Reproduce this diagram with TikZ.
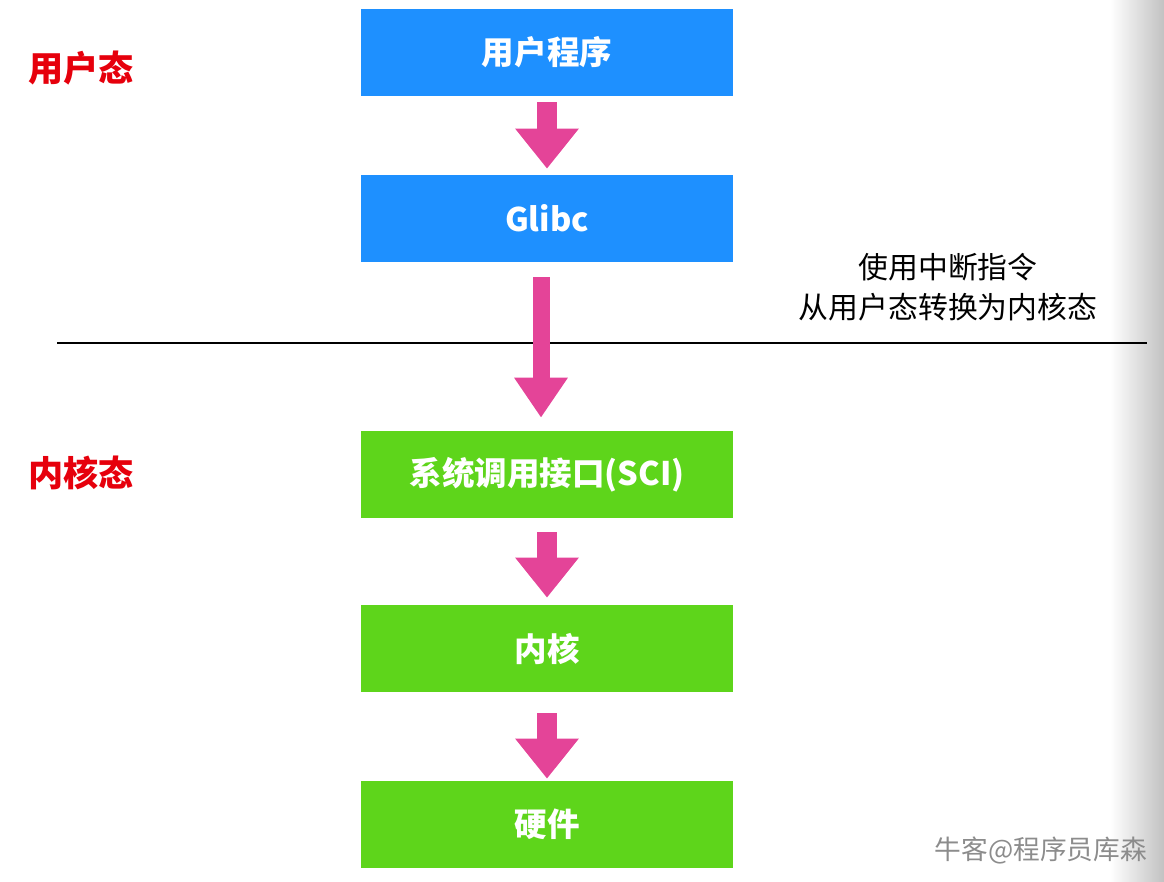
\documentclass[tikz,border=0pt]{standalone}
\usepackage{fontspec}
\setmainfont{Noto Sans CJK SC}
\usetikzlibrary{arrows.meta}
\definecolor{userblue}{RGB}{30,144,255}
\definecolor{kernelgreen}{RGB}{94,213,27}
\definecolor{arrowpink}{RGB}{228,68,152}
\definecolor{labelred}{RGB}{230,0,12}
\begin{document}
\begin{tikzpicture}[
    x=0.02cm, y=-0.02cm,
    layer/.style={
        rectangle, draw=none, text=white,
        minimum width=7.44cm, minimum height=1.74cm, inner sep=0pt,
        font=\fontsize{18.5}{22}\selectfont\bfseries
    },
    user/.style={layer, fill=userblue},
    kern/.style={layer, fill=kernelgreen},
    mode/.style={text=labelred, font=\fontsize{20}{24}\selectfont\bfseries},
    bigarr/.style={draw=arrowpink, line width=0.4cm,
        -{Triangle[width=1.22cm, length=0.8cm]}}
]
\useasboundingbox (0,0) rectangle (1164,882);

% --- right edge shadow ---
\shade[left color=white, right color=black!24] (1110,0) rectangle (1164,882);

% --- divider ---
\coordinate (divL) at (57,343);
\coordinate (divR) at (1147,343);
\draw[line width=1.1pt] (divL) -- (divR);

% --- modes ---
\node[mode] (usermode) at (81,68) {用户态};
\node[mode] (kernmode) at (81,473) {内核态};

% --- layers ---
\node[user] (prog)  at (547,52.5)  {用户程序};
\node[user] (glibc) at (547,218.5) {Glibc};
\node[kern] (sci)   at (547,474.5) {系统调用接口(SCI)};
\node[kern] (kernel) at (547,648.5) {内核};
\node[kern] (hw)    at (547,824.5) {硬件};

% --- note ---
\node[align=center, font=\fontsize{17}{22.7}\selectfont] (note) at (948,287)
    {使用中断指令\\从用户态转换为内核态};

% --- arrows ---
\draw[bigarr] ([yshift=-0.12cm]prog.south) -- ([yshift=0.12cm]glibc.north);
\draw[bigarr, line width=0.34cm, -{Triangle[width=1.02cm, length=0.8cm]}]
    ([xshift=-0.12cm, yshift=-0.3cm]glibc.south) -- ([xshift=-0.12cm, yshift=0.26cm]sci.north);
\draw[bigarr] ([yshift=-0.28cm]sci.south) -- ([yshift=0.14cm]kernel.north);
\draw[bigarr] ([yshift=-0.42cm]kernel.south) -- ([yshift=0.04cm]hw.north);

% --- watermark ---
\node[text=black!45, font=\fontsize{15.2}{18}\selectfont] (mark) at (1041,850) {牛客@程序员库森};

\end{tikzpicture}
\end{document}
